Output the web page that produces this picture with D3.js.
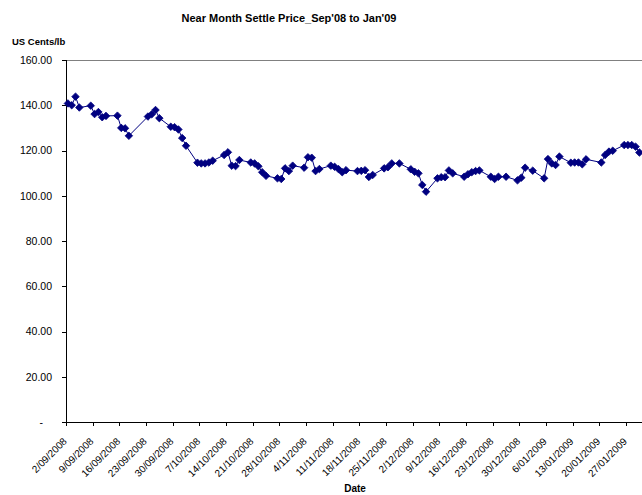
<!DOCTYPE html>
<html>
<head>
<meta charset="utf-8">
<script src="https://cdn.jsdelivr.net/npm/d3@7"></script>
<style>
  html, body { margin: 0; padding: 0; background: #fff; }
  svg { display: block; font-family: "Liberation Sans", Arial, sans-serif; }
</style>
</head>
<body>
<svg id="chart" width="642" height="495"></svg>
<script>
// ---- data ----
const dates = [
  "2/09/2008","3/09/2008","4/09/2008","5/09/2008","8/09/2008","9/09/2008","10/09/2008","11/09/2008","12/09/2008",
  "15/09/2008","16/09/2008","17/09/2008","18/09/2008","23/09/2008","24/09/2008","25/09/2008","26/09/2008",
  "29/09/2008","30/09/2008","1/10/2008","2/10/2008","3/10/2008","6/10/2008","7/10/2008","8/10/2008","9/10/2008","10/10/2008",
  "13/10/2008","14/10/2008","15/10/2008","16/10/2008","17/10/2008","20/10/2008","21/10/2008","22/10/2008","23/10/2008","24/10/2008",
  "27/10/2008","28/10/2008","29/10/2008","30/10/2008","31/10/2008","3/11/2008","4/11/2008","5/11/2008","6/11/2008","7/11/2008",
  "10/11/2008","11/11/2008","12/11/2008","13/11/2008","14/11/2008","17/11/2008","18/11/2008","19/11/2008","20/11/2008","21/11/2008",
  "24/11/2008","25/11/2008","26/11/2008","28/11/2008","1/12/2008","2/12/2008","3/12/2008","4/12/2008","5/12/2008",
  "8/12/2008","9/12/2008","10/12/2008","11/12/2008","12/12/2008","15/12/2008","16/12/2008","17/12/2008","18/12/2008","19/12/2008",
  "22/12/2008","23/12/2008","24/12/2008","26/12/2008","29/12/2008","30/12/2008","31/12/2008","2/01/2009",
  "5/01/2009","6/01/2009","7/01/2009","8/01/2009","9/01/2009","12/01/2009","13/01/2009","14/01/2009","15/01/2009","16/01/2009",
  "20/01/2009","21/01/2009","22/01/2009","23/01/2009","26/01/2009","27/01/2009","28/01/2009","29/01/2009","30/01/2009"
];
const prices = [
  140.8,140.0,143.8,139.0,139.8,136.1,137.0,134.7,135.3,
  135.4,130.0,129.8,126.5,135.0,136.0,137.9,134.3,
  130.5,130.3,129.3,125.5,122.1,114.6,114.3,114.3,114.7,115.5,
  118.0,119.2,113.3,113.1,115.8,114.7,114.3,113.0,110.4,108.8,
  107.7,107.4,112.1,110.9,113.3,112.4,117.0,116.8,110.9,111.8,
  113.3,112.8,111.8,110.4,111.3,110.9,111.0,111.3,108.3,109.2,
  112.1,112.6,114.3,114.3,111.7,110.6,109.9,104.8,101.8,
  107.7,108.2,108.2,111.2,109.9,108.4,109.5,110.4,110.9,111.2,
  108.4,107.4,108.4,108.4,106.8,108.0,112.4,111.1,
  107.7,116.2,114.3,113.6,117.3,114.6,114.7,114.7,113.9,116.1,
  114.7,118.0,119.5,119.9,122.4,122.4,122.4,121.7,119.1
];
const tickLabels = [
  "2/09/2008","9/09/2008","16/09/2008","23/09/2008","30/09/2008","7/10/2008","14/10/2008","21/10/2008",
  "28/10/2008","4/11/2008","11/11/2008","18/11/2008","25/11/2008","2/12/2008","9/12/2008","16/12/2008",
  "23/12/2008","30/12/2008","6/01/2009","13/01/2009","20/01/2009","27/01/2009"
];
const yTicks = [0,20,40,60,80,100,120,140,160];
const titleText = "Near Month Settle Price_Sep'08 to Jan'09";
const yTitle = "US Cents/lb";
const xTitle = "Date";

// ---- chart ----
const parse = d3.timeParse("%d/%m/%Y");
const data = dates.map((d, i) => ({ date: parse(d), v: prices[i] }));
const tickDates = tickLabels.map(parse);

const svg = d3.select("#chart");
const mLeft = 66, mTop = 60, mBottom = 422;
const pxPerDay = 3.81;
const start = parse("2/09/2008");
const end = d3.timeDay.offset(start, 154);

const x = d3.scaleTime().domain([start, end]).range([mLeft, mLeft + 154 * pxPerDay]);
const y = d3.scaleLinear().domain([0, 160]).range([mBottom, mTop]);
const xc = d => x(d3.timeHour.offset(d, 12)); // centre of day slot

// top plot border
svg.append("line")
  .attr("x1", mLeft).attr("x2", x(end))
  .attr("y1", y(160)).attr("y2", y(160))
  .attr("stroke", "#808080").attr("stroke-width", 1).attr("shape-rendering", "crispEdges");

// y axis
const yAxis = svg.append("g")
  .attr("transform", `translate(${mLeft},0)`)
  .call(d3.axisLeft(y).tickValues(yTicks).tickSize(4).tickPadding(10)
    .tickFormat(d => d === 0 ? "-" : d.toFixed(2)));
yAxis.select(".domain").attr("stroke", "#000").attr("shape-rendering", "crispEdges");
yAxis.selectAll(".tick line").attr("stroke", "#000").attr("shape-rendering", "crispEdges");
yAxis.selectAll(".tick text").attr("font-size", "10.5px").attr("fill", "#000")
  .attr("font-family", "Liberation Sans, Arial, sans-serif");
yAxis.selectAll(".tick text").filter(d => d === 0).attr("x", -23);

// x axis
const xAxis = svg.append("g")
  .attr("transform", `translate(0,${mBottom})`)
  .call(d3.axisBottom(x).tickValues(tickDates).tickSize(4).tickFormat((d, i) => tickLabels[i]));
xAxis.select(".domain").attr("stroke", "#000").attr("shape-rendering", "crispEdges")
  .attr("d", `M${mLeft},0.5H${x(end)}`);
xAxis.selectAll(".tick line").attr("stroke", "#000").attr("shape-rendering", "crispEdges");
xAxis.selectAll(".tick text")
  .attr("font-size", "10px").attr("fill", "#000")
  .attr("font-family", "Liberation Sans, Arial, sans-serif")
  .attr("text-anchor", "end")
  .attr("y", 0).attr("dy", 0)
  .attr("transform", "translate(1,20) rotate(-45)");

// line
svg.append("path")
  .datum(data)
  .attr("fill", "none")
  .attr("stroke", "#000080")
  .attr("stroke-width", 1)
  .attr("d", d3.line().x(d => xc(d.date)).y(d => y(d.v)));

// markers (diamonds)
const diamond = d3.symbol().type(d3.symbolDiamond2).size(36);
svg.append("g").selectAll("path")
  .data(data).join("path")
  .attr("d", diamond)
  .attr("transform", d => `translate(${xc(d.date)},${y(d.v)})`)
  .attr("fill", "#000080")
  .attr("stroke", "#000080")
  .attr("stroke-width", 0.8);

// titles
svg.append("text")
  .attr("x", 289).attr("y", 22)
  .attr("text-anchor", "middle")
  .attr("font-size", "11px").attr("font-weight", "bold")
  .text(titleText);

svg.append("text")
  .attr("x", 12).attr("y", 45)
  .attr("font-size", "9.5px").attr("font-weight", "bold")
  .text(yTitle);

svg.append("text")
  .attr("x", 355).attr("y", 492)
  .attr("text-anchor", "middle")
  .attr("font-size", "10px").attr("font-weight", "bold")
  .text(xTitle);
</script>
</body>
</html>
